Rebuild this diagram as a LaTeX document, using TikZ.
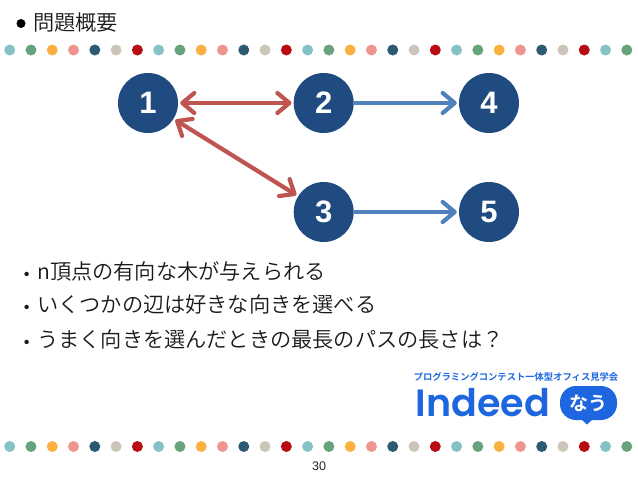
\documentclass[tikz,border=0pt]{standalone}
\usepackage{fontspec}
\setmainfont{Liberation Sans}
\newfontfamily\jp{Noto Sans CJK JP DemiLight}
\newfontfamily\jpbb{Noto Sans CJK JP Bold}
\newfontfamily\logofont{Poppins SemiBold}
\usetikzlibrary{arrows.meta}
\definecolor{dA}{HTML}{85C2C6}
\definecolor{dB}{HTML}{67A37C}
\definecolor{dC}{HTML}{FBB040}
\definecolor{dD}{HTML}{F09490}
\definecolor{dE}{HTML}{2C5A73}
\definecolor{dF}{HTML}{CCC5B9}
\definecolor{dG}{HTML}{B80C12}
\definecolor{nodeblue}{HTML}{1F4B80}
\definecolor{redarrow}{HTML}{BE5550}
\definecolor{bluearrow}{HTML}{4F81BD}
\definecolor{logoblue}{HTML}{1E66E0}
\tikzset{
  x=1pt,y=-1pt,
  vertex/.style={circle,fill=nodeblue,minimum size=60pt,inner sep=0pt,text=white,font=\fontsize{31}{31}\selectfont\bfseries},
  redline/.style={draw=redarrow,line width=4.2pt,{Straight Barb[length=12pt,width=20pt,line width=4.2pt,round]}-{Straight Barb[length=12pt,width=20pt,line width=4.2pt,round]},shorten <=2pt,shorten >=2pt},
  blueline/.style={draw=bluearrow,line width=4.2pt,-{Straight Barb[length=12pt,width=20pt,line width=4.2pt,round]},shorten >=2pt},
  bodytext/.style={anchor=west,inner sep=0pt,font=\jp\fontsize{21.2}{21.2}\selectfont,text=black!90},
  dotmark/.style={circle,inner sep=0pt,minimum size=11pt}
}
\begin{document}
\begin{tikzpicture}
\useasboundingbox (0,0) rectangle (638,479);
\fill[white] (0,0) rectangle (638,479);
\foreach \k in {0,...,29}{
  \pgfmathtruncatemacro{\c}{mod(\k,7)}
  \ifcase\c \def\col{dA}\or \def\col{dB}\or \def\col{dC}\or \def\col{dD}\or \def\col{dE}\or \def\col{dF}\or \def\col{dG}\fi
  \pgfmathsetmacro{\xx}{9.7+21.28*\k}
  \node[dotmark,fill=\col] (t\k) at (\xx,50) {};
  \node[dotmark,fill=\col] (b\k) at (\xx,446.5) {};
}
\node[circle,fill=black,minimum size=9pt,inner sep=0pt] (bul) at (21,23.5) {};
\node[bodytext] (title) at (33,22.5) {問題概要};
\node[vertex] (n1) at (148,103) {1};
\node[vertex] (n2) at (323.7,103) {2};
\node[vertex] (n4) at (489,103) {4};
\node[vertex] (n3) at (323.7,212) {3};
\node[vertex] (n5) at (489,212) {5};
\draw[redline] (n1) -- (n2);
\draw[redline] (n1) -- (n3);
\draw[blueline] (n2) -- (n4);
\draw[blueline] (n3) -- (n5);
\node[bodytext] (l0) at (16,277) {・};
\node[bodytext] (l1) at (37,271) {n頂点の有向な木が与えられる};
\node[bodytext] (m0) at (16,310) {・};
\node[bodytext] (l2) at (37,304) {いくつかの辺は好きな向きを選べる};
\node[bodytext] (o0) at (16,345) {・};
\node[bodytext] (l3) at (37,339) {うまく向きを選んだときの最長のパスの長さは？};
\node[inner sep=0pt,text=logoblue,font=\jpbb\fontsize{9.3}{9.3}\selectfont] (lg1) at (516,376.5) {プログラミングコンテスト一体型オフィス見学会};
\node[inner sep=0pt,text=logoblue,font=\logofont\fontsize{38}{38}\selectfont] (lg2) at (483,403) {Indeed};
\fill[logoblue,rounded corners=16pt] (560,386) rectangle (617,420);
\fill[logoblue] (580,418) -- (594,418) -- (587,424.5) -- cycle;
\node[inner sep=0pt,text=white,font=\jpbb\fontsize{19}{19}\selectfont] (lg3) at (588.5,403) {なう};
\node[inner sep=0pt,font=\fontsize{12.5}{12.5}\selectfont,text=black!85] (pg) at (319,466) {30};
\end{tikzpicture}
\end{document}
